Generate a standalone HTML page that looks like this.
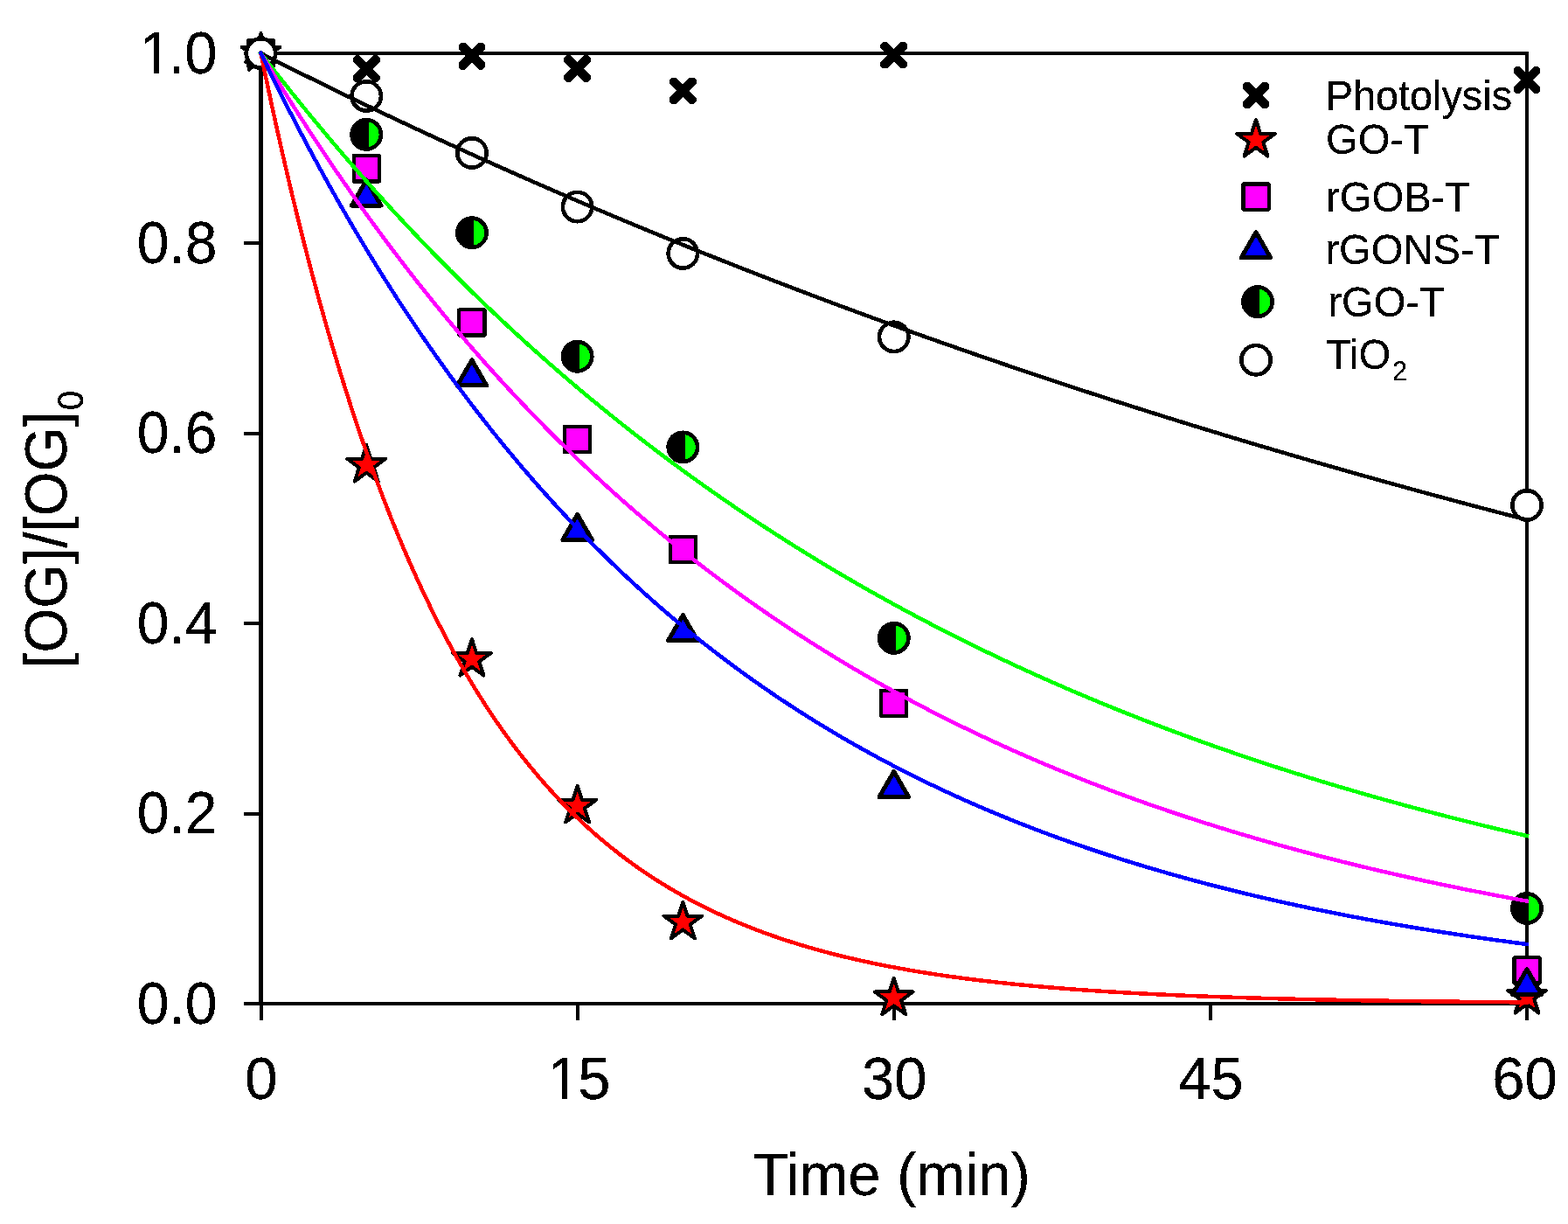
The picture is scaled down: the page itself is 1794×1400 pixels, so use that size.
<!DOCTYPE html>
<html><head><meta charset="utf-8"><title>[OG]/[OG]0 vs Time</title>
<style>html,body{margin:0;padding:0;background:#fff;}body{width:1794px;height:1400px;overflow:hidden;}svg{display:block;}text{font-family:'Liberation Sans', Arial, Helvetica, sans-serif;fill:#000;}</style></head><body>
<svg width="1794" height="1400" viewBox="0 0 1794 1400" shape-rendering="crispEdges">
<defs><filter id="crisp" x="0" y="0" width="1794" height="1400" filterUnits="userSpaceOnUse"><feComponentTransfer><feFuncA type="discrete" tableValues="0 1 1"/></feComponentTransfer></filter></defs>
<rect x="0" y="0" width="1794" height="1400" fill="#fff"/>
<rect x="1745.0" y="59.0" width="4" height="1091.0" fill="#000"/>
<rect x="296.0" y="59.0" width="1453.0" height="4" fill="#000"/>
<rect x="296.0" y="1146.0" width="1453.0" height="4" fill="#000"/>
<rect x="296.0" y="59.0" width="5" height="1091.0" fill="#000"/>
<line x1="279" y1="1148.00" x2="298.5" y2="1148.00" stroke="#000" stroke-width="4"/>
<line x1="279" y1="930.60" x2="298.5" y2="930.60" stroke="#000" stroke-width="4"/>
<line x1="279" y1="713.20" x2="298.5" y2="713.20" stroke="#000" stroke-width="4"/>
<line x1="279" y1="495.80" x2="298.5" y2="495.80" stroke="#000" stroke-width="4"/>
<line x1="279" y1="278.40" x2="298.5" y2="278.40" stroke="#000" stroke-width="4"/>
<line x1="279" y1="61.00" x2="298.5" y2="61.00" stroke="#000" stroke-width="4"/>
<line x1="298.50" y1="1148.0" x2="298.50" y2="1167" stroke="#000" stroke-width="4"/>
<line x1="660.62" y1="1148.0" x2="660.62" y2="1167" stroke="#000" stroke-width="4"/>
<line x1="1022.75" y1="1148.0" x2="1022.75" y2="1167" stroke="#000" stroke-width="4"/>
<line x1="1384.88" y1="1148.0" x2="1384.88" y2="1167" stroke="#000" stroke-width="4"/>
<line x1="1747.00" y1="1148.0" x2="1747.00" y2="1167" stroke="#000" stroke-width="4"/>
<polygon points="290.55,45.70 313.80,68.95 313.80,73.42 310.92,76.30 306.45,76.30 283.20,53.05 283.20,48.58 286.08,45.70" fill="#000"/><polygon points="313.80,53.05 290.55,76.30 286.08,76.30 283.20,73.42 283.20,68.95 306.45,45.70 310.92,45.70 313.80,48.58" fill="#000"/>
<polygon points="411.26,63.42 434.51,86.66 434.51,91.14 431.63,94.02 427.15,94.02 403.91,70.77 403.91,66.30 406.79,63.42" fill="#000"/><polygon points="434.51,70.77 411.26,94.02 406.79,94.02 403.91,91.14 403.91,86.66 427.15,63.42 431.63,63.42 434.51,66.30" fill="#000"/>
<polygon points="531.97,48.96 555.22,72.21 555.22,76.68 552.34,79.56 547.86,79.56 524.62,56.31 524.62,51.84 527.50,48.96" fill="#000"/><polygon points="555.22,56.31 531.97,79.56 527.50,79.56 524.62,76.68 524.62,72.21 547.86,48.96 552.34,48.96 555.22,51.84" fill="#000"/>
<polygon points="652.68,63.09 675.92,86.34 675.92,90.81 673.04,93.69 668.57,93.69 645.33,70.45 645.33,65.97 648.21,63.09" fill="#000"/><polygon points="675.92,70.45 652.68,93.69 648.21,93.69 645.33,90.81 645.33,86.34 668.57,63.09 673.04,63.09 675.92,65.97" fill="#000"/>
<polygon points="773.39,88.64 796.63,111.88 796.63,116.36 793.75,119.24 789.28,119.24 766.03,95.99 766.03,91.52 768.91,88.64" fill="#000"/><polygon points="796.63,95.99 773.39,119.24 768.91,119.24 766.03,116.36 766.03,111.88 789.28,88.64 793.75,88.64 796.63,91.52" fill="#000"/>
<polygon points="1014.80,47.87 1038.05,71.12 1038.05,75.59 1035.17,78.47 1030.70,78.47 1007.45,55.23 1007.45,50.76 1010.33,47.87" fill="#000"/><polygon points="1038.05,55.23 1014.80,78.47 1010.33,78.47 1007.45,75.59 1007.45,71.12 1030.70,47.87 1035.17,47.87 1038.05,50.76" fill="#000"/>
<polygon points="1739.05,76.14 1762.30,99.38 1762.30,103.85 1759.42,106.74 1754.95,106.74 1731.70,83.49 1731.70,79.02 1734.58,76.14" fill="#000"/><polygon points="1762.30,83.49 1739.05,106.74 1734.58,106.74 1731.70,103.85 1731.70,99.38 1754.95,76.14 1759.42,76.14 1762.30,79.02" fill="#000"/>
<polygon points="298.50,38.00 303.66,53.89 320.37,53.89 306.86,63.72 312.02,79.61 298.50,69.79 284.98,79.61 290.14,63.72 276.63,53.89 293.34,53.89" fill="#ff0000" stroke="#000" stroke-width="4.0" stroke-linejoin="round"/>
<polygon points="419.21,509.00 424.37,524.89 441.08,524.89 427.56,534.71 432.73,550.60 419.21,540.78 405.69,550.60 410.85,534.71 397.33,524.89 414.04,524.89" fill="#ff0000" stroke="#000" stroke-width="4.0" stroke-linejoin="round"/>
<polygon points="539.92,730.96 545.08,746.85 561.79,746.86 548.27,756.68 553.44,772.57 539.92,762.75 526.40,772.57 531.56,756.68 518.04,746.86 534.75,746.85" fill="#ff0000" stroke="#000" stroke-width="4.0" stroke-linejoin="round"/>
<polygon points="660.62,898.80 665.79,914.69 682.50,914.69 668.98,924.51 674.14,940.40 660.62,930.58 647.11,940.40 652.27,924.51 638.75,914.69 655.46,914.69" fill="#ff0000" stroke="#000" stroke-width="4.0" stroke-linejoin="round"/>
<polygon points="781.33,1031.74 786.50,1047.63 803.21,1047.63 789.69,1057.45 794.85,1073.34 781.33,1063.52 767.81,1073.34 772.98,1057.45 759.46,1047.63 776.17,1047.63" fill="#ff0000" stroke="#000" stroke-width="4.0" stroke-linejoin="round"/>
<polygon points="1022.75,1118.59 1027.91,1134.48 1044.62,1134.48 1031.11,1144.30 1036.27,1160.19 1022.75,1150.37 1009.23,1160.19 1014.39,1144.30 1000.88,1134.48 1017.59,1134.48" fill="#ff0000" stroke="#000" stroke-width="4.0" stroke-linejoin="round"/>
<polygon points="1747.00,1116.96 1752.16,1132.85 1768.87,1132.85 1755.36,1142.67 1760.52,1158.56 1747.00,1148.74 1733.48,1158.56 1738.64,1142.67 1725.13,1132.85 1741.84,1132.85" fill="#ff0000" stroke="#000" stroke-width="4.0" stroke-linejoin="round"/>
<rect x="283.90" y="46.40" width="29.20" height="29.20" fill="#ff00ff" stroke="#000" stroke-width="4.2" stroke-linejoin="round"/>
<rect x="404.61" y="178.25" width="29.20" height="29.20" fill="#ff00ff" stroke="#000" stroke-width="4.2" stroke-linejoin="round"/>
<rect x="525.32" y="354.35" width="29.20" height="29.20" fill="#ff00ff" stroke="#000" stroke-width="4.2" stroke-linejoin="round"/>
<rect x="646.02" y="487.72" width="29.20" height="29.20" fill="#ff00ff" stroke="#000" stroke-width="4.2" stroke-linejoin="round"/>
<rect x="766.73" y="613.92" width="29.20" height="29.20" fill="#ff00ff" stroke="#000" stroke-width="4.2" stroke-linejoin="round"/>
<rect x="1008.15" y="789.69" width="29.20" height="29.20" fill="#ff00ff" stroke="#000" stroke-width="4.2" stroke-linejoin="round"/>
<rect x="1732.40" y="1095.36" width="29.20" height="29.20" fill="#ff00ff" stroke="#000" stroke-width="4.2" stroke-linejoin="round"/>
<polygon points="298.50,41.66 315.25,70.67 281.75,70.67" fill="#0000ff" stroke="#000" stroke-width="5" stroke-linejoin="round"/>
<polygon points="419.21,206.01 435.96,235.03 402.46,235.03" fill="#0000ff" stroke="#000" stroke-width="5" stroke-linejoin="round"/>
<polygon points="539.92,411.89 556.67,440.90 523.17,440.90" fill="#0000ff" stroke="#000" stroke-width="5" stroke-linejoin="round"/>
<polygon points="660.62,588.42 677.38,617.43 643.88,617.43" fill="#0000ff" stroke="#000" stroke-width="5" stroke-linejoin="round"/>
<polygon points="781.33,703.64 798.08,732.65 764.58,732.65" fill="#0000ff" stroke="#000" stroke-width="5" stroke-linejoin="round"/>
<polygon points="1022.75,882.45 1039.50,911.47 1006.00,911.47" fill="#0000ff" stroke="#000" stroke-width="5" stroke-linejoin="round"/>
<polygon points="1747.00,1108.55 1763.75,1137.56 1730.25,1137.56" fill="#0000ff" stroke="#000" stroke-width="5" stroke-linejoin="round"/>
<circle cx="298.50" cy="61.00" r="16.7" fill="#000"/><path d="M300.80,44.46A16.7,16.7 0 0 1 300.80,77.54Z" fill="#00ff00"/><circle cx="298.50" cy="61.00" r="16.7" fill="none" stroke="#000" stroke-width="4.6"/>
<circle cx="419.21" cy="153.83" r="16.7" fill="#000"/><path d="M421.51,137.29A16.7,16.7 0 0 1 421.51,170.37Z" fill="#00ff00"/><circle cx="419.21" cy="153.83" r="16.7" fill="none" stroke="#000" stroke-width="4.6"/>
<circle cx="539.92" cy="266.23" r="16.7" fill="#000"/><path d="M542.22,249.68A16.7,16.7 0 0 1 542.22,282.77Z" fill="#00ff00"/><circle cx="539.92" cy="266.23" r="16.7" fill="none" stroke="#000" stroke-width="4.6"/>
<circle cx="660.62" cy="407.75" r="16.7" fill="#000"/><path d="M662.92,391.21A16.7,16.7 0 0 1 662.92,424.29Z" fill="#00ff00"/><circle cx="660.62" cy="407.75" r="16.7" fill="none" stroke="#000" stroke-width="4.6"/>
<circle cx="781.33" cy="511.45" r="16.7" fill="#000"/><path d="M783.63,494.91A16.7,16.7 0 0 1 783.63,527.99Z" fill="#00ff00"/><circle cx="781.33" cy="511.45" r="16.7" fill="none" stroke="#000" stroke-width="4.6"/>
<circle cx="1022.75" cy="729.83" r="16.7" fill="#000"/><path d="M1025.05,713.29A16.7,16.7 0 0 1 1025.05,746.37Z" fill="#00ff00"/><circle cx="1022.75" cy="729.83" r="16.7" fill="none" stroke="#000" stroke-width="4.6"/>
<circle cx="1747.00" cy="1038.97" r="16.7" fill="#000"/><path d="M1749.30,1022.43A16.7,16.7 0 0 1 1749.30,1055.51Z" fill="#00ff00"/><circle cx="1747.00" cy="1038.97" r="16.7" fill="none" stroke="#000" stroke-width="4.6"/>
<circle cx="298.50" cy="61.00" r="16.7" fill="#fff" stroke="#000" stroke-width="4.6"/>
<circle cx="419.21" cy="109.91" r="16.7" fill="#fff" stroke="#000" stroke-width="4.6"/>
<circle cx="539.92" cy="174.92" r="16.7" fill="#fff" stroke="#000" stroke-width="4.6"/>
<circle cx="660.62" cy="236.55" r="16.7" fill="#fff" stroke="#000" stroke-width="4.6"/>
<circle cx="781.33" cy="289.92" r="16.7" fill="#fff" stroke="#000" stroke-width="4.6"/>
<circle cx="1022.75" cy="385.36" r="16.7" fill="#fff" stroke="#000" stroke-width="4.6"/>
<circle cx="1747.00" cy="577.87" r="16.7" fill="#fff" stroke="#000" stroke-width="4.6"/>
<polyline points="298.50,61.00 304.54,64.05 310.57,67.10 316.61,70.13 322.64,73.16 328.68,76.18 334.71,79.19 340.75,82.19 346.78,85.18 352.82,88.17 358.85,91.15 364.89,94.11 370.93,97.07 376.96,100.03 383.00,102.97 389.03,105.90 395.07,108.83 401.10,111.75 407.14,114.66 413.17,117.56 419.21,120.46 425.24,123.34 431.28,126.22 437.31,129.09 443.35,131.95 449.39,134.80 455.42,137.65 461.46,140.49 467.49,143.32 473.53,146.14 479.56,148.95 485.60,151.76 491.63,154.56 497.67,157.35 503.70,160.13 509.74,162.90 515.77,165.67 521.81,168.43 527.85,171.18 533.88,173.92 539.92,176.66 545.95,179.39 551.99,182.11 558.02,184.82 564.06,187.53 570.09,190.22 576.13,192.91 582.16,195.60 588.20,198.27 594.24,200.94 600.27,203.60 606.31,206.25 612.34,208.90 618.38,211.53 624.41,214.16 630.45,216.79 636.48,219.40 642.52,222.01 648.55,224.61 654.59,227.20 660.62,229.79 666.66,232.37 672.70,234.94 678.73,237.50 684.77,240.06 690.80,242.61 696.84,245.15 702.87,247.69 708.91,250.22 714.94,252.74 720.98,255.25 727.01,257.76 733.05,260.26 739.09,262.76 745.12,265.24 751.16,267.72 757.19,270.19 763.23,272.66 769.26,275.12 775.30,277.57 781.33,280.01 787.37,282.45 793.40,284.88 799.44,287.31 805.47,289.72 811.51,292.13 817.55,294.54 823.58,296.93 829.62,299.32 835.65,301.71 841.69,304.08 847.72,306.46 853.76,308.82 859.79,311.18 865.83,313.53 871.86,315.87 877.90,318.21 883.94,320.54 889.97,322.86 896.01,325.18 902.04,327.49 908.08,329.79 914.11,332.09 920.15,334.38 926.18,336.67 932.22,338.95 938.25,341.22 944.29,343.49 950.32,345.74 956.36,348.00 962.40,350.24 968.43,352.49 974.47,354.72 980.50,356.95 986.54,359.17 992.57,361.38 998.61,363.59 1004.64,365.80 1010.68,367.99 1016.71,370.18 1022.75,372.37 1028.79,374.55 1034.82,376.72 1040.86,378.89 1046.89,381.05 1052.93,383.20 1058.96,385.35 1065.00,387.49 1071.03,389.63 1077.07,391.76 1083.10,393.88 1089.14,396.00 1095.17,398.11 1101.21,400.22 1107.25,402.32 1113.28,404.41 1119.32,406.50 1125.35,408.58 1131.39,410.66 1137.42,412.73 1143.46,414.79 1149.49,416.85 1155.53,418.91 1161.56,420.95 1167.60,423.00 1173.64,425.03 1179.67,427.06 1185.71,429.09 1191.74,431.11 1197.78,433.12 1203.81,435.13 1209.85,437.13 1215.88,439.13 1221.92,441.12 1227.95,443.10 1233.99,445.08 1240.03,447.06 1246.06,449.03 1252.10,450.99 1258.13,452.95 1264.17,454.90 1270.20,456.84 1276.24,458.79 1282.27,460.72 1288.31,462.65 1294.34,464.58 1300.38,466.50 1306.41,468.41 1312.45,470.32 1318.49,472.22 1324.52,474.12 1330.56,476.01 1336.59,477.90 1342.63,479.78 1348.66,481.66 1354.70,483.53 1360.73,485.40 1366.77,487.26 1372.80,489.11 1378.84,490.96 1384.88,492.81 1390.91,494.65 1396.95,496.48 1402.98,498.31 1409.02,500.14 1415.05,501.96 1421.09,503.77 1427.12,505.58 1433.16,507.39 1439.19,509.19 1445.23,510.98 1451.26,512.77 1457.30,514.55 1463.34,516.33 1469.37,518.11 1475.41,519.87 1481.44,521.64 1487.48,523.40 1493.51,525.15 1499.55,526.90 1505.58,528.65 1511.62,530.39 1517.65,532.12 1523.69,533.85 1529.72,535.57 1535.76,537.29 1541.80,539.01 1547.83,540.72 1553.87,542.43 1559.90,544.13 1565.94,545.82 1571.97,547.51 1578.01,549.20 1584.04,550.88 1590.08,552.56 1596.11,554.23 1602.15,555.90 1608.19,557.56 1614.22,559.22 1620.26,560.87 1626.29,562.52 1632.33,564.17 1638.36,565.81 1644.40,567.44 1650.43,569.07 1656.47,570.70 1662.50,572.32 1668.54,573.94 1674.58,575.55 1680.61,577.16 1686.65,578.76 1692.68,580.36 1698.72,581.95 1704.75,583.54 1710.79,585.13 1716.82,586.71 1722.86,588.29 1728.89,589.86 1734.93,591.43 1740.96,592.99 1747.00,594.55" fill="none" stroke="#000000" stroke-width="4.5" stroke-linejoin="round" stroke-linecap="square"/>
<polyline points="298.50,61.00 304.54,68.83 310.57,76.59 316.61,84.31 322.64,91.96 328.68,99.57 334.71,107.11 340.75,114.61 346.78,122.05 352.82,129.43 358.85,136.77 364.89,144.05 370.93,151.27 376.96,158.45 383.00,165.57 389.03,172.64 395.07,179.67 401.10,186.64 407.14,193.56 413.17,200.43 419.21,207.25 425.24,214.02 431.28,220.75 437.31,227.42 443.35,234.05 449.39,240.63 455.42,247.16 461.46,253.65 467.49,260.08 473.53,266.48 479.56,272.82 485.60,279.12 491.63,285.38 497.67,291.59 503.70,297.75 509.74,303.87 515.77,309.95 521.81,315.98 527.85,321.97 533.88,327.92 539.92,333.82 545.95,339.68 551.99,345.50 558.02,351.28 564.06,357.02 570.09,362.71 576.13,368.36 582.16,373.98 588.20,379.55 594.24,385.08 600.27,390.57 606.31,396.03 612.34,401.44 618.38,406.81 624.41,412.15 630.45,417.45 636.48,422.71 642.52,427.93 648.55,433.11 654.59,438.26 660.62,443.37 666.66,448.44 672.70,453.48 678.73,458.48 684.77,463.44 690.80,468.37 696.84,473.26 702.87,478.12 708.91,482.94 714.94,487.73 720.98,492.48 727.01,497.20 733.05,501.89 739.09,506.54 745.12,511.15 751.16,515.74 757.19,520.29 763.23,524.81 769.26,529.30 775.30,533.75 781.33,538.17 787.37,542.56 793.40,546.92 799.44,551.25 805.47,555.54 811.51,559.81 817.55,564.04 823.58,568.25 829.62,572.42 835.65,576.56 841.69,580.68 847.72,584.76 853.76,588.82 859.79,592.84 865.83,596.84 871.86,600.81 877.90,604.75 883.94,608.66 889.97,612.54 896.01,616.39 902.04,620.22 908.08,624.02 914.11,627.79 920.15,631.54 926.18,635.26 932.22,638.95 938.25,642.61 944.29,646.25 950.32,649.86 956.36,653.45 962.40,657.01 968.43,660.54 974.47,664.05 980.50,667.54 986.54,671.00 992.57,674.43 998.61,677.84 1004.64,681.22 1010.68,684.58 1016.71,687.92 1022.75,691.23 1028.79,694.52 1034.82,697.78 1040.86,701.03 1046.89,704.24 1052.93,707.44 1058.96,710.61 1065.00,713.76 1071.03,716.88 1077.07,719.99 1083.10,723.07 1089.14,726.13 1095.17,729.17 1101.21,732.18 1107.25,735.17 1113.28,738.15 1119.32,741.10 1125.35,744.03 1131.39,746.93 1137.42,749.82 1143.46,752.69 1149.49,755.53 1155.53,758.36 1161.56,761.16 1167.60,763.95 1173.64,766.71 1179.67,769.46 1185.71,772.18 1191.74,774.89 1197.78,777.57 1203.81,780.24 1209.85,782.89 1215.88,785.52 1221.92,788.13 1227.95,790.72 1233.99,793.29 1240.03,795.84 1246.06,798.38 1252.10,800.90 1258.13,803.39 1264.17,805.87 1270.20,808.34 1276.24,810.78 1282.27,813.21 1288.31,815.62 1294.34,818.01 1300.38,820.39 1306.41,822.75 1312.45,825.09 1318.49,827.41 1324.52,829.72 1330.56,832.01 1336.59,834.29 1342.63,836.55 1348.66,838.79 1354.70,841.01 1360.73,843.22 1366.77,845.42 1372.80,847.60 1378.84,849.76 1384.88,851.91 1390.91,854.04 1396.95,856.15 1402.98,858.25 1409.02,860.34 1415.05,862.41 1421.09,864.47 1427.12,866.51 1433.16,868.54 1439.19,870.55 1445.23,872.54 1451.26,874.53 1457.30,876.50 1463.34,878.45 1469.37,880.39 1475.41,882.32 1481.44,884.23 1487.48,886.13 1493.51,888.01 1499.55,889.89 1505.58,891.74 1511.62,893.59 1517.65,895.42 1523.69,897.24 1529.72,899.04 1535.76,900.84 1541.80,902.62 1547.83,904.38 1553.87,906.14 1559.90,907.88 1565.94,909.61 1571.97,911.32 1578.01,913.03 1584.04,914.72 1590.08,916.40 1596.11,918.06 1602.15,919.72 1608.19,921.36 1614.22,922.99 1620.26,924.61 1626.29,926.22 1632.33,927.82 1638.36,929.40 1644.40,930.98 1650.43,932.54 1656.47,934.09 1662.50,935.63 1668.54,937.16 1674.58,938.68 1680.61,940.18 1686.65,941.68 1692.68,943.17 1698.72,944.64 1704.75,946.10 1710.79,947.56 1716.82,949.00 1722.86,950.43 1728.89,951.86 1734.93,953.27 1740.96,954.67 1747.00,956.06" fill="none" stroke="#00ff00" stroke-width="4.5" stroke-linejoin="round" stroke-linecap="square"/>
<polyline points="298.50,61.00 304.54,71.04 310.57,80.98 316.61,90.83 322.64,100.59 328.68,110.26 334.71,119.84 340.75,129.33 346.78,138.74 352.82,148.05 358.85,157.29 364.89,166.43 370.93,175.49 376.96,184.47 383.00,193.37 389.03,202.18 395.07,210.91 401.10,219.56 407.14,228.14 413.17,236.63 419.21,245.04 425.24,253.38 431.28,261.64 437.31,269.82 443.35,277.93 449.39,285.96 455.42,293.92 461.46,301.80 467.49,309.62 473.53,317.36 479.56,325.02 485.60,332.62 491.63,340.15 497.67,347.61 503.70,355.00 509.74,362.32 515.77,369.57 521.81,376.76 527.85,383.88 533.88,390.93 539.92,397.92 545.95,404.85 551.99,411.71 558.02,418.51 564.06,425.24 570.09,431.91 576.13,438.52 582.16,445.07 588.20,451.56 594.24,457.99 600.27,464.36 606.31,470.67 612.34,476.93 618.38,483.12 624.41,489.26 630.45,495.34 636.48,501.37 642.52,507.34 648.55,513.25 654.59,519.11 660.62,524.92 666.66,530.67 672.70,536.37 678.73,542.02 684.77,547.61 690.80,553.15 696.84,558.65 702.87,564.09 708.91,569.48 714.94,574.82 720.98,580.11 727.01,585.35 733.05,590.55 739.09,595.69 745.12,600.79 751.16,605.85 757.19,610.85 763.23,615.81 769.26,620.72 775.30,625.59 781.33,630.41 787.37,635.19 793.40,639.93 799.44,644.62 805.47,649.26 811.51,653.87 817.55,658.43 823.58,662.95 829.62,667.43 835.65,671.86 841.69,676.26 847.72,680.62 853.76,684.93 859.79,689.21 865.83,693.44 871.86,697.64 877.90,701.80 883.94,705.92 889.97,710.00 896.01,714.04 902.04,718.05 908.08,722.02 914.11,725.95 920.15,729.85 926.18,733.71 932.22,737.53 938.25,741.32 944.29,745.07 950.32,748.79 956.36,752.48 962.40,756.13 968.43,759.75 974.47,763.33 980.50,766.88 986.54,770.40 992.57,773.89 998.61,777.34 1004.64,780.77 1010.68,784.16 1016.71,787.51 1022.75,790.84 1028.79,794.14 1034.82,797.41 1040.86,800.64 1046.89,803.85 1052.93,807.03 1058.96,810.18 1065.00,813.29 1071.03,816.38 1077.07,819.45 1083.10,822.48 1089.14,825.48 1095.17,828.46 1101.21,831.41 1107.25,834.33 1113.28,837.23 1119.32,840.10 1125.35,842.94 1131.39,845.76 1137.42,848.55 1143.46,851.31 1149.49,854.05 1155.53,856.77 1161.56,859.45 1167.60,862.12 1173.64,864.76 1179.67,867.37 1185.71,869.96 1191.74,872.53 1197.78,875.07 1203.81,877.59 1209.85,880.09 1215.88,882.56 1221.92,885.01 1227.95,887.44 1233.99,889.85 1240.03,892.23 1246.06,894.59 1252.10,896.93 1258.13,899.25 1264.17,901.55 1270.20,903.82 1276.24,906.08 1282.27,908.31 1288.31,910.52 1294.34,912.71 1300.38,914.89 1306.41,917.04 1312.45,919.17 1318.49,921.28 1324.52,923.38 1330.56,925.45 1336.59,927.50 1342.63,929.54 1348.66,931.56 1354.70,933.56 1360.73,935.54 1366.77,937.50 1372.80,939.44 1378.84,941.37 1384.88,943.27 1390.91,945.16 1396.95,947.04 1402.98,948.89 1409.02,950.73 1415.05,952.55 1421.09,954.35 1427.12,956.14 1433.16,957.91 1439.19,959.67 1445.23,961.41 1451.26,963.13 1457.30,964.84 1463.34,966.53 1469.37,968.20 1475.41,969.86 1481.44,971.51 1487.48,973.14 1493.51,974.75 1499.55,976.35 1505.58,977.94 1511.62,979.51 1517.65,981.06 1523.69,982.60 1529.72,984.13 1535.76,985.64 1541.80,987.14 1547.83,988.63 1553.87,990.10 1559.90,991.56 1565.94,993.00 1571.97,994.43 1578.01,995.85 1584.04,997.25 1590.08,998.64 1596.11,1000.02 1602.15,1001.39 1608.19,1002.74 1614.22,1004.08 1620.26,1005.41 1626.29,1006.73 1632.33,1008.03 1638.36,1009.33 1644.40,1010.61 1650.43,1011.87 1656.47,1013.13 1662.50,1014.38 1668.54,1015.61 1674.58,1016.83 1680.61,1018.04 1686.65,1019.24 1692.68,1020.43 1698.72,1021.61 1704.75,1022.78 1710.79,1023.93 1716.82,1025.08 1722.86,1026.21 1728.89,1027.34 1734.93,1028.45 1740.96,1029.55 1747.00,1030.65" fill="none" stroke="#ff00ff" stroke-width="4.5" stroke-linejoin="round" stroke-linecap="square"/>
<polyline points="298.50,61.00 304.54,90.17 310.57,118.55 316.61,146.18 322.64,173.06 328.68,199.22 334.71,224.68 340.75,249.45 346.78,273.57 352.82,297.03 358.85,319.86 364.89,342.09 370.93,363.71 376.96,384.76 383.00,405.24 389.03,425.17 395.07,444.56 401.10,463.44 407.14,481.81 413.17,499.68 419.21,517.08 425.24,534.01 431.28,550.49 437.31,566.52 443.35,582.12 449.39,597.31 455.42,612.08 461.46,626.46 467.49,640.46 473.53,654.08 479.56,667.33 485.60,680.23 491.63,692.78 497.67,705.00 503.70,716.88 509.74,728.45 515.77,739.71 521.81,750.67 527.85,761.33 533.88,771.70 539.92,781.80 545.95,791.63 551.99,801.19 558.02,810.50 564.06,819.55 570.09,828.37 576.13,836.94 582.16,845.29 588.20,853.41 594.24,861.32 600.27,869.01 606.31,876.50 612.34,883.78 618.38,890.87 624.41,897.77 630.45,904.49 636.48,911.02 642.52,917.38 648.55,923.57 654.59,929.59 660.62,935.45 666.66,941.15 672.70,946.70 678.73,952.11 684.77,957.36 690.80,962.48 696.84,967.46 702.87,972.30 708.91,977.01 714.94,981.60 720.98,986.07 727.01,990.41 733.05,994.64 739.09,998.76 745.12,1002.76 751.16,1006.66 757.19,1010.45 763.23,1014.14 769.26,1017.73 775.30,1021.23 781.33,1024.63 787.37,1027.94 793.40,1031.16 799.44,1034.30 805.47,1037.35 811.51,1040.32 817.55,1043.21 823.58,1046.02 829.62,1048.76 835.65,1051.42 841.69,1054.01 847.72,1056.53 853.76,1058.99 859.79,1061.38 865.83,1063.70 871.86,1065.96 877.90,1068.16 883.94,1070.31 889.97,1072.39 896.01,1074.42 902.04,1076.39 908.08,1078.32 914.11,1080.19 920.15,1082.01 926.18,1083.78 932.22,1085.50 938.25,1087.18 944.29,1088.81 950.32,1090.40 956.36,1091.94 962.40,1093.45 968.43,1094.91 974.47,1096.34 980.50,1097.72 986.54,1099.07 992.57,1100.38 998.61,1101.66 1004.64,1102.90 1010.68,1104.11 1016.71,1105.29 1022.75,1106.44 1028.79,1107.55 1034.82,1108.64 1040.86,1109.70 1046.89,1110.72 1052.93,1111.72 1058.96,1112.70 1065.00,1113.64 1071.03,1114.57 1077.07,1115.46 1083.10,1116.34 1089.14,1117.19 1095.17,1118.01 1101.21,1118.82 1107.25,1119.60 1113.28,1120.36 1119.32,1121.10 1125.35,1121.83 1131.39,1122.53 1137.42,1123.21 1143.46,1123.88 1149.49,1124.52 1155.53,1125.15 1161.56,1125.77 1167.60,1126.36 1173.64,1126.94 1179.67,1127.51 1185.71,1128.06 1191.74,1128.59 1197.78,1129.11 1203.81,1129.62 1209.85,1130.11 1215.88,1130.59 1221.92,1131.06 1227.95,1131.52 1233.99,1131.96 1240.03,1132.39 1246.06,1132.81 1252.10,1133.22 1258.13,1133.61 1264.17,1134.00 1270.20,1134.37 1276.24,1134.74 1282.27,1135.10 1288.31,1135.44 1294.34,1135.78 1300.38,1136.11 1306.41,1136.43 1312.45,1136.74 1318.49,1137.04 1324.52,1137.33 1330.56,1137.62 1336.59,1137.90 1342.63,1138.17 1348.66,1138.43 1354.70,1138.69 1360.73,1138.94 1366.77,1139.18 1372.80,1139.42 1378.84,1139.65 1384.88,1139.87 1390.91,1140.09 1396.95,1140.30 1402.98,1140.51 1409.02,1140.71 1415.05,1140.91 1421.09,1141.10 1427.12,1141.28 1433.16,1141.46 1439.19,1141.64 1445.23,1141.81 1451.26,1141.97 1457.30,1142.14 1463.34,1142.29 1469.37,1142.45 1475.41,1142.60 1481.44,1142.74 1487.48,1142.88 1493.51,1143.02 1499.55,1143.15 1505.58,1143.28 1511.62,1143.41 1517.65,1143.53 1523.69,1143.65 1529.72,1143.77 1535.76,1143.88 1541.80,1143.99 1547.83,1144.10 1553.87,1144.21 1559.90,1144.31 1565.94,1144.41 1571.97,1144.50 1578.01,1144.60 1584.04,1144.69 1590.08,1144.78 1596.11,1144.86 1602.15,1144.95 1608.19,1145.03 1614.22,1145.11 1620.26,1145.19 1626.29,1145.26 1632.33,1145.34 1638.36,1145.41 1644.40,1145.48 1650.43,1145.54 1656.47,1145.61 1662.50,1145.67 1668.54,1145.74 1674.58,1145.80 1680.61,1145.86 1686.65,1145.91 1692.68,1145.97 1698.72,1146.02 1704.75,1146.08 1710.79,1146.13 1716.82,1146.18 1722.86,1146.23 1728.89,1146.28 1734.93,1146.32 1740.96,1146.37 1747.00,1146.41" fill="none" stroke="#ff0000" stroke-width="4.5" stroke-linejoin="round" stroke-linecap="square"/>
<polyline points="298.50,61.00 304.54,73.48 310.57,85.82 316.61,98.02 322.64,110.08 328.68,122.00 334.71,133.78 340.75,145.43 346.78,156.94 352.82,168.32 358.85,179.57 364.89,190.69 370.93,201.68 376.96,212.55 383.00,223.29 389.03,233.91 395.07,244.41 401.10,254.79 407.14,265.04 413.17,275.18 419.21,285.21 425.24,295.11 431.28,304.91 437.31,314.59 443.35,324.16 449.39,333.62 455.42,342.97 461.46,352.22 467.49,361.36 473.53,370.39 479.56,379.32 485.60,388.15 491.63,396.87 497.67,405.50 503.70,414.02 509.74,422.45 515.77,430.78 521.81,439.02 527.85,447.16 533.88,455.21 539.92,463.17 545.95,471.03 551.99,478.80 558.02,486.49 564.06,494.09 570.09,501.59 576.13,509.02 582.16,516.36 588.20,523.61 594.24,530.78 600.27,537.87 606.31,544.87 612.34,551.80 618.38,558.65 624.41,565.41 630.45,572.10 636.48,578.72 642.52,585.25 648.55,591.72 654.59,598.11 660.62,604.42 666.66,610.66 672.70,616.83 678.73,622.93 684.77,628.96 690.80,634.92 696.84,640.81 702.87,646.64 708.91,652.40 714.94,658.09 720.98,663.71 727.01,669.27 733.05,674.77 739.09,680.21 745.12,685.58 751.16,690.89 757.19,696.14 763.23,701.33 769.26,706.46 775.30,711.53 781.33,716.54 787.37,721.49 793.40,726.39 799.44,731.23 805.47,736.02 811.51,740.75 817.55,745.43 823.58,750.05 829.62,754.62 835.65,759.14 841.69,763.60 847.72,768.02 853.76,772.38 859.79,776.69 865.83,780.96 871.86,785.17 877.90,789.34 883.94,793.46 889.97,797.53 896.01,801.55 902.04,805.53 908.08,809.47 914.11,813.35 920.15,817.20 926.18,820.99 932.22,824.75 938.25,828.46 944.29,832.13 950.32,835.76 956.36,839.34 962.40,842.89 968.43,846.39 974.47,849.86 980.50,853.28 986.54,856.66 992.57,860.01 998.61,863.32 1004.64,866.59 1010.68,869.82 1016.71,873.01 1022.75,876.17 1028.79,879.29 1034.82,882.38 1040.86,885.43 1046.89,888.44 1052.93,891.42 1058.96,894.37 1065.00,897.28 1071.03,900.16 1077.07,903.01 1083.10,905.82 1089.14,908.60 1095.17,911.35 1101.21,914.07 1107.25,916.76 1113.28,919.41 1119.32,922.04 1125.35,924.63 1131.39,927.20 1137.42,929.73 1143.46,932.24 1149.49,934.72 1155.53,937.16 1161.56,939.59 1167.60,941.98 1173.64,944.35 1179.67,946.68 1185.71,949.00 1191.74,951.28 1197.78,953.54 1203.81,955.77 1209.85,957.98 1215.88,960.16 1221.92,962.32 1227.95,964.45 1233.99,966.56 1240.03,968.64 1246.06,970.70 1252.10,972.74 1258.13,974.75 1264.17,976.74 1270.20,978.71 1276.24,980.65 1282.27,982.57 1288.31,984.47 1294.34,986.35 1300.38,988.21 1306.41,990.04 1312.45,991.86 1318.49,993.65 1324.52,995.42 1330.56,997.17 1336.59,998.91 1342.63,1000.62 1348.66,1002.31 1354.70,1003.98 1360.73,1005.64 1366.77,1007.27 1372.80,1008.89 1378.84,1010.49 1384.88,1012.06 1390.91,1013.63 1396.95,1015.17 1402.98,1016.69 1409.02,1018.20 1415.05,1019.69 1421.09,1021.17 1427.12,1022.62 1433.16,1024.06 1439.19,1025.49 1445.23,1026.89 1451.26,1028.28 1457.30,1029.66 1463.34,1031.02 1469.37,1032.36 1475.41,1033.69 1481.44,1035.00 1487.48,1036.30 1493.51,1037.58 1499.55,1038.85 1505.58,1040.10 1511.62,1041.34 1517.65,1042.57 1523.69,1043.78 1529.72,1044.97 1535.76,1046.16 1541.80,1047.33 1547.83,1048.48 1553.87,1049.63 1559.90,1050.76 1565.94,1051.87 1571.97,1052.98 1578.01,1054.07 1584.04,1055.15 1590.08,1056.21 1596.11,1057.27 1602.15,1058.31 1608.19,1059.34 1614.22,1060.36 1620.26,1061.36 1626.29,1062.36 1632.33,1063.34 1638.36,1064.31 1644.40,1065.27 1650.43,1066.22 1656.47,1067.16 1662.50,1068.09 1668.54,1069.01 1674.58,1069.92 1680.61,1070.81 1686.65,1071.70 1692.68,1072.58 1698.72,1073.44 1704.75,1074.30 1710.79,1075.14 1716.82,1075.98 1722.86,1076.81 1728.89,1077.63 1734.93,1078.43 1740.96,1079.23 1747.00,1080.02" fill="none" stroke="#0000ff" stroke-width="4.5" stroke-linejoin="round" stroke-linecap="square"/>
<polygon points="1429.05,93.80 1452.30,117.05 1452.30,121.52 1449.42,124.40 1444.95,124.40 1421.70,101.15 1421.70,96.68 1424.58,93.80" fill="#000"/><polygon points="1452.30,101.15 1429.05,124.40 1424.58,124.40 1421.70,121.52 1421.70,117.05 1444.95,93.80 1449.42,93.80 1452.30,96.68" fill="#000"/>
<polygon points="1437.00,137.00 1442.16,152.89 1458.87,152.89 1445.36,162.72 1450.52,178.61 1437.00,168.79 1423.48,178.61 1428.64,162.72 1415.13,152.89 1431.84,152.89" fill="#ff0000" stroke="#000" stroke-width="4.0" stroke-linejoin="round"/>
<rect x="1422.40" y="210.50" width="29.20" height="29.20" fill="#ff00ff" stroke="#000" stroke-width="4.2" stroke-linejoin="round"/>
<polygon points="1437.00,265.66 1453.75,294.67 1420.25,294.67" fill="#0000ff" stroke="#000" stroke-width="5" stroke-linejoin="round"/>
<circle cx="1439.00" cy="345.10" r="16.7" fill="#000"/><path d="M1441.30,328.56A16.7,16.7 0 0 1 1441.30,361.64Z" fill="#00ff00"/><circle cx="1439.00" cy="345.10" r="16.7" fill="none" stroke="#000" stroke-width="4.6"/>
<circle cx="1437.00" cy="411.70" r="16.7" fill="#fff" stroke="#000" stroke-width="4.6"/>
<g filter="url(#crisp)">
<text transform="translate(248.5,1170.50) scale(0.985,1.02)" font-size="67" text-anchor="end">0.0</text>
<text transform="translate(248.5,953.10) scale(0.985,1.02)" font-size="67" text-anchor="end">0.2</text>
<text transform="translate(248.5,735.70) scale(0.985,1.02)" font-size="67" text-anchor="end">0.4</text>
<text transform="translate(248.5,518.30) scale(0.985,1.02)" font-size="67" text-anchor="end">0.6</text>
<text transform="translate(248.5,300.90) scale(0.985,1.02)" font-size="67" text-anchor="end">0.8</text>
<text transform="translate(155.36,83.50) scale(1,1.02)" font-size="67"><tspan dx="3.9">1</tspan><tspan dx="-3.9">.0</tspan></text>
<text transform="translate(299.00,1257.2) scale(1,1.02)" font-size="67" text-anchor="middle">0</text>
<text transform="translate(623.86,1257.2) scale(1,1.02)" font-size="67"><tspan dx="2.4">1</tspan><tspan dx="-2.4">5</tspan></text>
<text transform="translate(1023.25,1257.2) scale(1,1.02)" font-size="67" text-anchor="middle">30</text>
<text transform="translate(1385.38,1257.2) scale(1,1.02)" font-size="67" text-anchor="middle">45</text>
<text transform="translate(1744.50,1257.2) scale(1,1.02)" font-size="67" text-anchor="middle">60</text>
<text transform="translate(1020,1367.3) scale(1,1.02)" font-size="67" text-anchor="middle">Time (min)</text>
<text transform="translate(76,764.8) rotate(-90) scale(0.977,1.03)" font-size="67">[OG]/[OG]<tspan font-size="41" dy="19" dx="1.2">0</tspan></text>
<text transform="translate(1516.7,125.9) scale(0.992,1.03)" font-size="47.2">Photolysis</text>
<text transform="translate(1517,176.0) scale(1,1.03)" font-size="47.2">GO-T</text>
<text transform="translate(1517,242.2) scale(1,1.03)" font-size="47.2">rGOB-T</text>
<text transform="translate(1516.4,302.2) scale(1,1.03)" font-size="47.2">rGONS-T</text>
<text transform="translate(1519.4,362.0) scale(1,1.03)" font-size="47.2">rGO-T</text>
<text transform="translate(1517,422.2) scale(1,1.03)" font-size="47.2">TiO<tspan font-size="30" dy="12.7" dx="2">2</tspan></text>
</g>
<rect x="162.86" y="77.79" width="12.89" height="7.21" fill="#fff"/>
<rect x="182.38" y="77.79" width="12.37" height="7.21" fill="#fff"/>
<rect x="629.87" y="1251.49" width="12.89" height="7.21" fill="#fff"/>
<rect x="649.38" y="1251.49" width="12.37" height="7.21" fill="#fff"/>
</svg></body></html>
